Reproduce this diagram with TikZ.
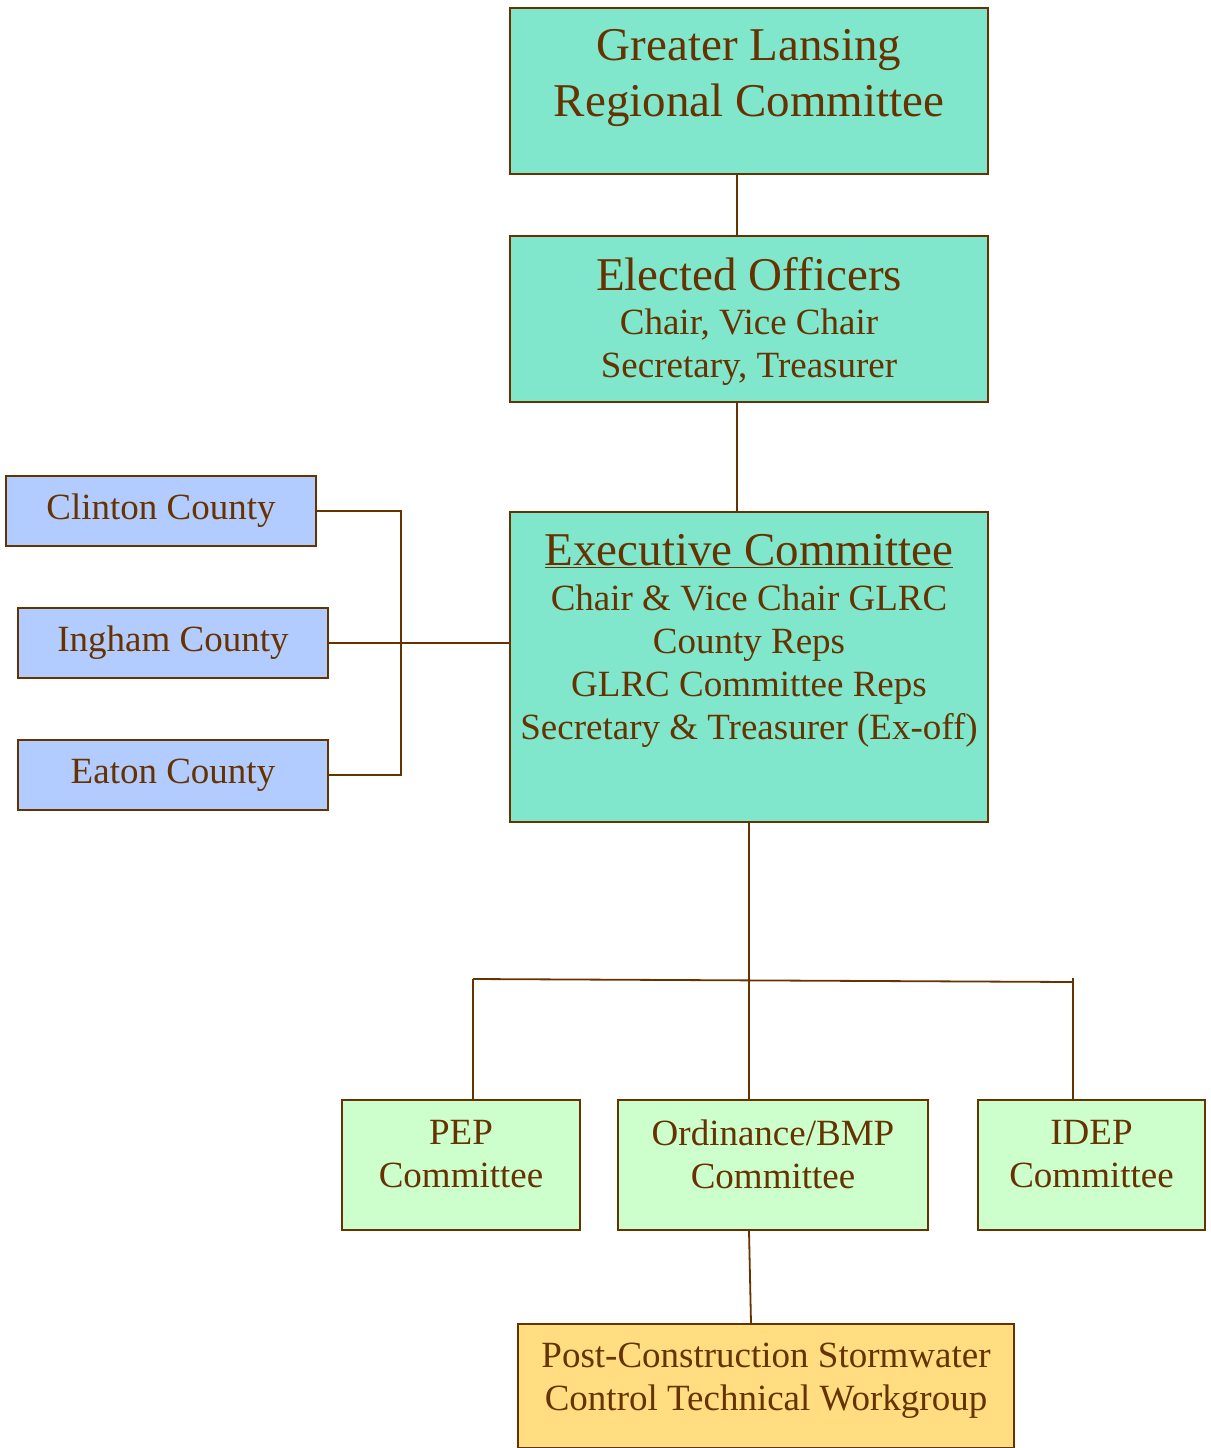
\documentclass[tikz,border=0pt]{standalone}
\usepackage{fontspec}
\setmainfont{Liberation Serif}
\definecolor{brn}{HTML}{663300}
\definecolor{teal1}{HTML}{80E6CC}
\definecolor{blue1}{HTML}{B3CCFF}
\definecolor{green1}{HTML}{CCFFCC}
\definecolor{gold1}{HTML}{FFDD80}
\tikzset{
  box/.style={draw=brn, line width=2pt, inner sep=0pt, rectangle},
  tealbox/.style={box, fill=teal1},
  countybox/.style={box, fill=blue1, text=brn, font=\fontsize{37}{43}\selectfont},
  combox/.style={box, fill=green1},
  goldbox/.style={box, fill=gold1},
  big/.style={text=brn, align=center, inner sep=0pt, font=\fontsize{47}{56}\selectfont},
  med/.style={text=brn, align=center, inner sep=0pt, font=\fontsize{37}{43}\selectfont},
  conn/.style={draw=brn, line width=1.8pt},
}
\begin{document}
\begin{tikzpicture}[x=1pt,y=-1pt]
\useasboundingbox (0,0) rectangle (1210,1448);
% top boxes
\node[tealbox, minimum width=478pt, minimum height=166pt] (glrc) at (749,91) {};
\node[big, text depth=0pt] (glrct) at (749,73) {Greater Lansing\\Regional Committee};
\node[tealbox, minimum width=478pt, minimum height=166pt] (elec) at (749,319) {};
\node[big, anchor=center] (elect) at (749,274) {Elected Officers};
\node[med] (elecs) at (749,347) {Chair, Vice Chair\\Secretary, Treasurer};
\node[tealbox, minimum width=478pt, minimum height=310pt] (exec) at (749,667) {};
\node[big] (exect) at (749,551) {\underline{Executive Committee}};
\node[med] (execs) at (749,666.5) {Chair \& Vice Chair GLRC\\County Reps\\GLRC Committee Reps\\Secretary \& Treasurer (Ex-off)};
% counties
\node[countybox, minimum width=310pt, minimum height=70pt] (clinton) at (161,511) {Clinton County};
\node[countybox, minimum width=310pt, minimum height=70pt] (ingham) at (173,643) {Ingham County};
\node[countybox, minimum width=310pt, minimum height=70pt] (eaton) at (173,775) {Eaton County};
% committees
\node[combox, minimum width=238pt, minimum height=130pt] (pep) at (461,1165) {};
\node[med] (pept) at (461,1154) {PEP\\Committee};
\node[combox, minimum width=310pt, minimum height=130pt] (ord) at (773,1165) {};
\node[med] (ordt) at (773,1154) {Ordinance/BMP\\Committee};
\node[combox, minimum width=227pt, minimum height=130pt] (idep) at (1091.5,1165) {};
\node[med] (idept) at (1091.5,1154) {IDEP\\Committee};
\node[goldbox, minimum width=496pt, minimum height=124pt] (post) at (766,1386) {};
\node[med] (postt) at (766,1381) {Post-Construction Stormwater\\Control Technical Workgroup};
% connectors
\coordinate (cx) at (401,643);
\coordinate (jl) at (473,979);
\coordinate (jr) at (1073,982);
\coordinate (jrt) at (1073,978);
\draw[conn] ([xshift=-12pt]glrc.south) -- ([xshift=-12pt]elec.north);
\draw[conn] ([xshift=-12pt]elec.south) -- ([xshift=-12pt]exec.north);
\draw[conn] (clinton.east) -| (cx) |- (eaton.east);
\draw[conn] (ingham.east) -- (ingham.east -| exec.west);
\draw[conn] (exec.south) -- (exec.south |- ord.north);
\draw[conn] (jl) -- (jr);
\draw[conn] (jl) -- (jl |- pep.north);
\draw[conn] (jrt) -- (jrt |- idep.north);
\draw[conn] ([xshift=-24pt]ord.south) -- ([xshift=-15pt]post.north);
\end{tikzpicture}
\end{document}
